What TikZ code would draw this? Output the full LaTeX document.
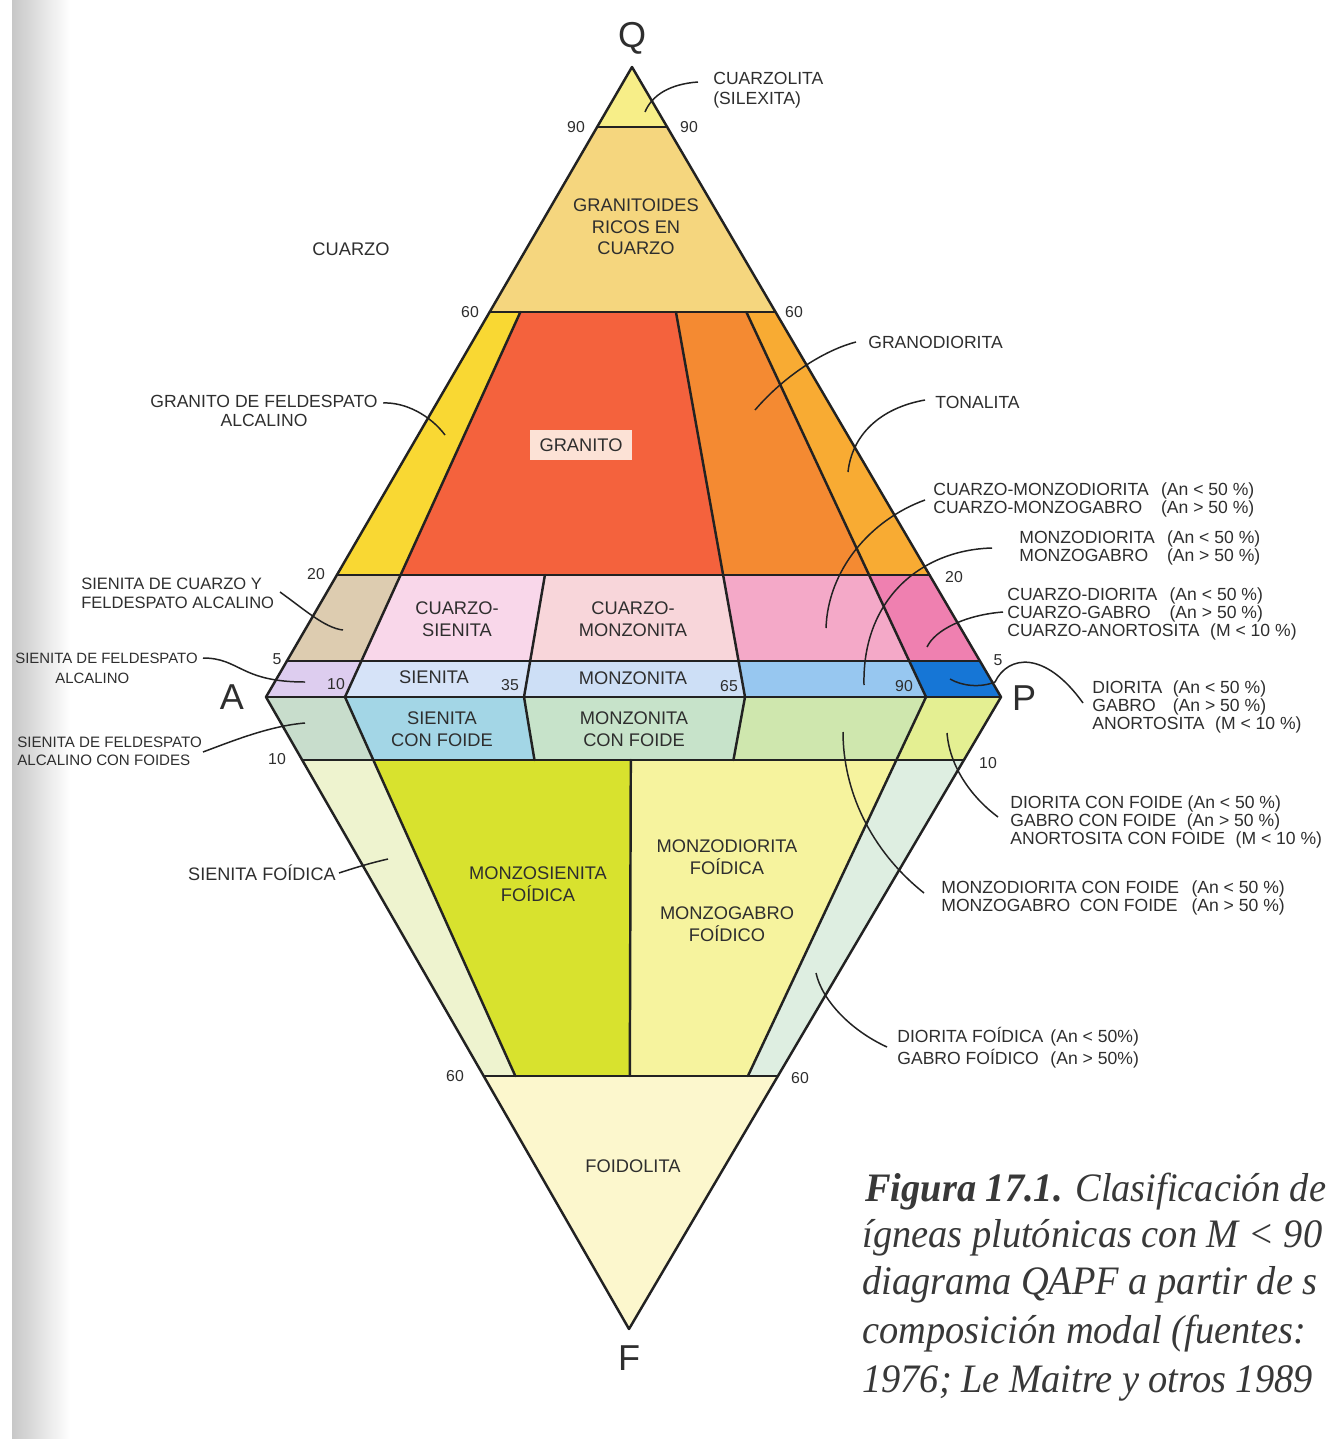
\documentclass[tikz,border=0pt]{standalone}
\usepackage{fontspec}
\setmainfont{Liberation Sans}
\newfontfamily\captionserif{Liberation Serif}
\usetikzlibrary{calc}

% line and text colours
\definecolor{ink}{HTML}{222222}
\definecolor{txt}{HTML}{2E2E2E}
% field colours
\definecolor{cQz}{HTML}{F7EE88}
\definecolor{cQrich}{HTML}{F5D67E}
\definecolor{cAfGr}{HTML}{F9D833}
\definecolor{cGr}{HTML}{F4623D}
\definecolor{cGrd}{HTML}{F48A32}
\definecolor{cTon}{HTML}{F8AB33}
\definecolor{cQAfs}{HTML}{DDCCB0}
\definecolor{cQSy}{HTML}{F9D7EA}
\definecolor{cQMz}{HTML}{F8D6DA}
\definecolor{cQMd}{HTML}{F4A9C8}
\definecolor{cQDi}{HTML}{EF80B0}
\definecolor{cAfs}{HTML}{DDCDEF}
\definecolor{cSy}{HTML}{D6E3F8}
\definecolor{cMz}{HTML}{CDDFF6}
\definecolor{cMd}{HTML}{97C7F0}
\definecolor{cDi}{HTML}{1676D6}
\definecolor{cFAfs}{HTML}{C8DDCC}
\definecolor{cFSy}{HTML}{A3D6E6}
\definecolor{cFMz}{HTML}{C7E3CA}
\definecolor{cFMd}{HTML}{CFE7AE}
\definecolor{cFDi}{HTML}{E4EF92}
\definecolor{cFoSy}{HTML}{EEF3CF}
\definecolor{cFoMs}{HTML}{D8E22E}
\definecolor{cFoMd}{HTML}{F6F39E}
\definecolor{cFoDi}{HTML}{DEEEE1}
\definecolor{cFoid}{HTML}{FCF7CD}
\definecolor{cBox}{HTML}{FCE2D6}

% point on the ray from Q towards base x-position #2 on A--P, at height #3
\newcommand\qpoint[3]{\pgfmathsetmacro\qpx{632+(#2-632)*((#3-67)/630)}\coordinate (#1) at (\qpx,#3);}
% point on the ray from F towards base x-position #2 on A--P, at height #3
\newcommand\fpoint[3]{\pgfmathsetmacro\fpx{629+(#2-629)*((1329-#3)/632)}\coordinate (#1) at (\fpx,#3);}
% filled four-corner field
\newcommand\zone[5]{\fill[#1] (#2) -- (#3) -- (#4) -- (#5) -- cycle;}
% slightly narrowed caption line
\newcommand\capline[1]{\scalebox{0.95}[1]{#1}}

\begin{document}
\begin{tikzpicture}[x=0.02cm,y=-0.02cm,
  edge/.style={draw=ink,line width=1.4pt,line join=round,line cap=round},
  leader/.style={draw=ink,line width=0.85pt},
  reg/.style={text=txt,inner sep=0pt,align=center,font=\fontsize{10.4}{12.2}\selectfont},
  side/.style={text=txt,inner sep=0pt,align=left,font=\fontsize{10}{10.4}\selectfont},
  num/.style={text=txt,inner sep=0pt,font=\fontsize{9}{10}\selectfont},
  vertex/.style={text=txt,inner sep=0pt,font=\fontsize{20.5}{24}\selectfont}]

\useasboundingbox (0,0) rectangle (1337,1439);
\clip (0,0) rectangle (1337,1439);
\fill[white] (0,0) rectangle (1337,1439);
% shadow of the page gutter
\shade[left color=black!22,right color=white] (12,0) rectangle (70,1439);

% apexes
\coordinate (Q) at (632,67);
\coordinate (A) at (266,697);
\coordinate (P) at (1001,697);
\coordinate (F) at (629,1329);

% grid points: Q levels 90,60,20,5,0 and F levels 0,10,60
\foreach \lv/\yy in {90/127,60/312,20/575,5/661,0/697}{
  \foreach \b/\bx in {a/266,t/345,f/524,s/745,n/926,p/1001}{\qpoint{q\lv\b}{\bx}{\yy}}}
\foreach \lv/\yy in {0/697,10/760,60/1076}{
  \foreach \b/\bx in {a/266,t/345,f/524,m/631,s/745,n/926,p/1001}{\fpoint{f\lv\b}{\bx}{\yy}}}

% ---- upper triangle (QAP)
\fill[cQz] (Q) -- (q90a) -- (q90p) -- cycle;
\zone{cQrich}{q90a}{q60a}{q60p}{q90p}
\zone{cAfGr}{q60a}{q20a}{q20t}{q60t}
\zone{cGr}{q60t}{q20t}{q20s}{q60s}
\zone{cGrd}{q60s}{q20s}{q20n}{q60n}
\zone{cTon}{q60n}{q20n}{q20p}{q60p}
\zone{cQAfs}{q20a}{q5a}{q5t}{q20t}
\zone{cQSy}{q20t}{q5t}{q5f}{q20f}
\zone{cQMz}{q20f}{q5f}{q5s}{q20s}
\zone{cQMd}{q20s}{q5s}{q5n}{q20n}
\zone{cQDi}{q20n}{q5n}{q5p}{q20p}
\zone{cAfs}{q5a}{q0a}{q0t}{q5t}
\zone{cSy}{q5t}{q0t}{q0f}{q5f}
\zone{cMz}{q5f}{q0f}{q0s}{q5s}
\zone{cMd}{q5s}{q0s}{q0n}{q5n}
\zone{cDi}{q5n}{q0n}{q0p}{q5p}

% ---- lower triangle (FAP)
\zone{cFAfs}{f0a}{f10a}{f10t}{f0t}
\zone{cFSy}{f0t}{f10t}{f10f}{f0f}
\zone{cFMz}{f0f}{f10f}{f10s}{f0s}
\zone{cFMd}{f0s}{f10s}{f10n}{f0n}
\zone{cFDi}{f0n}{f10n}{f10p}{f0p}
\zone{cFoSy}{f10a}{f60a}{f60t}{f10t}
\zone{cFoMs}{f10t}{f60t}{f60m}{f10m}
\zone{cFoMd}{f10m}{f60m}{f60n}{f10n}
\zone{cFoDi}{f10n}{f60n}{f60p}{f10p}
\fill[cFoid] (f60a) -- (F) -- (f60p) -- cycle;

% ---- field boundaries
\draw[edge] (q90a) -- (q90p);
\draw[edge] (q60a) -- (q60p);
\draw[edge] (q20a) -- (q20p);
\draw[edge] (q5a) -- (q5p);
\draw[edge] (A) -- (P);
\draw[edge] (f10a) -- (f10p);
\draw[edge] (f60a) -- (f60p);
\draw[edge] (q60t) -- (q0t) -- (f60t);
\draw[edge] (q60s) -- (q0s) -- (f10s);
\draw[edge] (q60n) -- (q0n) -- (f60n);
\draw[edge] (q20f) -- (q0f) -- (f10f);
\draw[edge] (f10m) -- (f60m);
\draw[edge] (Q) -- (A) -- (F) -- (P) -- cycle;

% ---- apex letters
\node[vertex] (lQ) at (632,38) {Q};
\node[vertex] (lA) at (232,697) {A};
\node[vertex] (lP) at (1024,698) {P};
\node[vertex] (lF) at (629,1358) {F};

% ---- scale numbers
\node[num] (n90l) at (576,127) {90};
\node[num] (n90r) at (689,127) {90};
\node[num] (n60l) at (470,312) {60};
\node[num] (n60r) at (794,312) {60};
\node[num] (n20l) at (316,574) {20};
\node[num] (n20r) at (954,577) {20};
\node[num] (n5l) at (277,659) {5};
\node[num] (n5r) at (998,660) {5};
\node[num] (n10a) at (336,684) {10};
\node[num] (n35) at (510,685) {35};
\node[num] (n65) at (729,686) {65};
\node[num] (n90a) at (904,686) {90};
\node[num] (n10l) at (277,759) {10};
\node[num] (n10r) at (988,763) {10};
\node[num] (n60fl) at (455,1076) {60};
\node[num] (n60fr) at (800,1078) {60};

% ---- names inside the fields
\node[reg] (tCuarzo) at (351,249) {CUARZO};
\node[reg] (tQrich) at (636,227) {GRANITOIDES\\RICOS EN\\CUARZO};
\node[reg,fill=cBox,minimum width=2.04cm,minimum height=0.6cm] (tGranito) at (581,445) {GRANITO};
\node[reg] (tQSy) at (457,619) {CUARZO-\\SIENITA};
\node[reg] (tQMz) at (633,619) {CUARZO-\\MONZONITA};
\node[reg] (tSy) at (434,677) {SIENITA};
\node[reg] (tMz) at (633,678) {MONZONITA};
\node[reg] (tFSy) at (442,729) {SIENITA\\CON FOIDE};
\node[reg] (tFMz) at (634,729) {MONZONITA\\CON FOIDE};
\node[reg] (tFoMs) at (538,884) {MONZOSIENITA\\FOÍDICA};
\node[reg] (tFoMd) at (727,857) {MONZODIORITA\\FOÍDICA};
\node[reg] (tFoMg) at (727,924) {MONZOGABRO\\FOÍDICO};
\node[reg] (tFoid) at (633,1166) {FOIDOLITA};

% ---- names outside the diagram
\node[side,anchor=west,font=\fontsize{10}{11.3}\selectfont] (lbCzl) at (713,90) {CUARZOLITA\\(SILEXITA)};
\node[side,anchor=west] (lbGrd) at (868,342) {GRANODIORITA};
\node[side,anchor=west] (lbTon) at (935,402) {TONALITA};
\node[side,anchor=west] (lbQMd) at (933,501)
  {\begin{tabular}{@{}l@{\hspace{7pt}}l@{}}CUARZO-MONZODIORITA & (An < 50 \%)\\CUARZO-MONZOGABRO & (An > 50 \%)\end{tabular}};
\node[side,anchor=west] (lbMd) at (1019,549)
  {\begin{tabular}{@{}l@{\hspace{7pt}}l@{}}MONZODIORITA & (An < 50 \%)\\MONZOGABRO & (An > 50 \%)\end{tabular}};
\node[side,anchor=west] (lbQDi) at (1007,615)
  {\begin{tabular}{@{}l@{\hspace{7pt}}l@{}}CUARZO-DIORITA & (An < 50 \%)\\CUARZO-GABRO & (An > 50 \%)\\\multicolumn{2}{@{}l@{}}{CUARZO-ANORTOSITA\hspace{6pt}(M < 10 \%)}\end{tabular}};
\node[side,anchor=west] (lbDi) at (1092,708)
  {\begin{tabular}{@{}l@{\hspace{6pt}}l@{}}DIORITA & (An < 50 \%)\\GABRO & (An > 50 \%)\\\multicolumn{2}{@{}l@{}}{ANORTOSITA\hspace{6pt}(M < 10 \%)}\end{tabular}};
\node[side,anchor=west] (lbFDi) at (1010,822)
  {DIORITA CON FOIDE (An < 50 \%)\\GABRO CON FOIDE\hspace{6pt}(An > 50 \%)\\ANORTOSITA CON FOIDE\hspace{6pt}(M < 10 \%)};
\node[side,anchor=west] (lbFMd) at (941,899)
  {\begin{tabular}{@{}l@{\hspace{7pt}}l@{}}MONZODIORITA CON FOIDE & (An < 50 \%)\\MONZOGABRO\ \ CON FOIDE & (An > 50 \%)\end{tabular}};
\node[side,anchor=west,font=\fontsize{10}{12.3}\selectfont] (lbFoDi) at (897,1049)
  {\begin{tabular}{@{}l@{\hspace{4pt}}l@{}}DIORITA FOÍDICA & (An < 50\%)\\GABRO FOÍDICO & (An > 50\%)\end{tabular}};
\node[side,align=center] (lbGrAf) at (264,411) {GRANITO DE FELDESPATO\\ALCALINO};
\node[side,anchor=west,font=\fontsize{9.4}{10.6}\selectfont] (lbQAfs) at (81,593) {SIENITA DE CUARZO Y\\FELDESPATO ALCALINO};
\node[side,anchor=west,font=\fontsize{8.5}{11.3}\selectfont] (lbAfs) at (15,668) {SIENITA DE FELDESPATO\\\hspace*{0.8cm}ALCALINO};
\node[side,anchor=west,font=\fontsize{8.6}{10.4}\selectfont] (lbFAfs) at (17,751) {SIENITA DE FELDESPATO\\ALCALINO CON FOIDES};
\node[side,anchor=east,font=\fontsize{10.3}{12}\selectfont] (lbFoSy) at (336,873) {SIENITA FOÍDICA};

% ---- leader lines: label end -> field end
\coordinate (k1a) at (698,82);   \coordinate (k1b) at (645,112);
\coordinate (k2a) at (383,403);  \coordinate (k2b) at (445,435);
\coordinate (k3a) at (856,342);  \coordinate (k3b) at (755,410);
\coordinate (k4a) at (925,400);  \coordinate (k4b) at (848,472);
\coordinate (k5a) at (925,500);  \coordinate (k5b) at (826,628);
\coordinate (k6a) at (992,548);  \coordinate (k6b) at (864,685);
\coordinate (k7a) at (1003,612); \coordinate (k7b) at (927,647);
\coordinate (k8a) at (1083,703); \coordinate (k8b) at (950,679);
\coordinate (k9a) at (998,817);  \coordinate (k9b) at (947,733);
\coordinate (k10a) at (924,893); \coordinate (k10b) at (843,732);
\coordinate (k11a) at (887,1047);\coordinate (k11b) at (816,973);
\coordinate (k12a) at (339,873); \coordinate (k12b) at (388,859);
\coordinate (k13a) at (280,592); \coordinate (k13b) at (343,630);
\coordinate (k14a) at (203,658); \coordinate (k14b) at (305,682);
\coordinate (k15a) at (203,752); \coordinate (k15b) at (305,723);

\draw[leader] (k1a) .. controls (670,84) and (652,95) .. (k1b);
\draw[leader] (k2a) .. controls (405,402) and (430,415) .. (k2b);
\draw[leader] (k3a) .. controls (825,350) and (785,375) .. (k3b);
\draw[leader] (k4a) .. controls (880,408) and (852,435) .. (k4b);
\draw[leader] (k5a) .. controls (870,520) and (828,570) .. (k5b);
\draw[leader] (k6a) .. controls (920,550) and (862,600) .. (k6b);
\draw[leader] (k7a) .. controls (965,615) and (935,630) .. (k7b);
\draw[leader] (k8a) .. controls (1045,650) and (1008,655) .. (995,682) .. controls (980,688) and (962,686) .. (k8b);
\draw[leader] (k9a) .. controls (975,800) and (950,770) .. (k9b);
\draw[leader] (k10a) .. controls (870,850) and (843,790) .. (k10b);
\draw[leader] (k11a) .. controls (850,1030) and (822,1000) .. (k11b);
\draw[leader] (k12a) .. controls (360,866) and (375,862) .. (k12b);
\draw[leader] (k13a) .. controls (305,610) and (325,628) .. (k13b);
\draw[leader] (k14a) .. controls (240,658) and (240,682) .. (k14b);
\draw[leader] (k15a) .. controls (235,740) and (270,726) .. (k15b);

% ---- figure caption
\begin{scope}[every node/.style={anchor=base west,inner sep=0pt,text=black!78,
    font=\captionserif\itshape\fontsize{23}{27}\selectfont}]
  \node (cap1) at (865,1201) {\capline{\textbf{Figura 17.1.} Clasificación de}};
  \node (cap2) at (862,1247) {\capline{ígneas plutónicas con M < 90}};
  \node (cap3) at (862,1294) {\capline{diagrama QAPF a partir de s}};
  \node (cap4) at (862,1343) {\capline{composición modal (fuentes:}};
  \node (cap5) at (862,1392) {\capline{1976; Le Maitre y otros 1989}};
\end{scope}
\end{tikzpicture}
\end{document}
